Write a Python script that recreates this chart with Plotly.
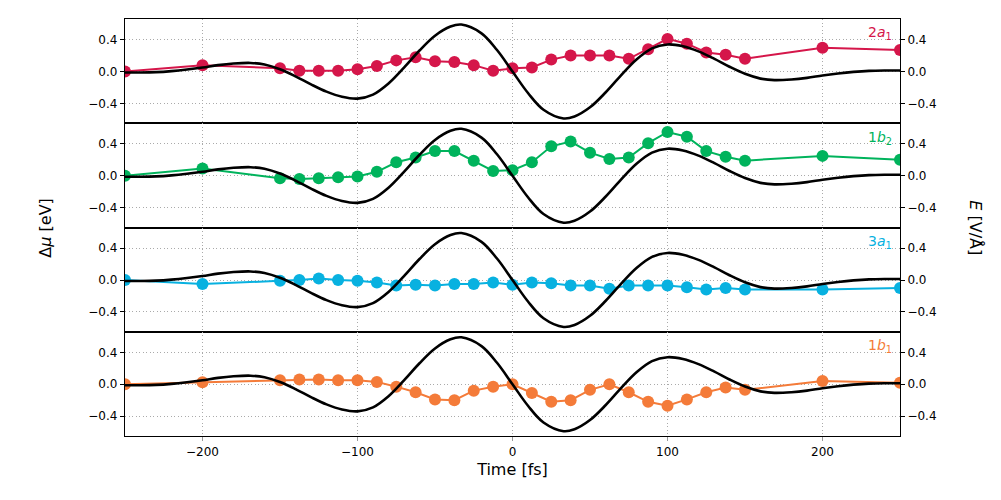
import plotly.graph_objects as go
from plotly.subplots import make_subplots

# Sample times (fs)
t_pts = [-250, -200, -150, -137.5, -125, -112.5, -100, -87.5, -75, -62.5, -50, -37.5, -25, -12.5,
         0, 12.5, 25, 37.5, 50, 62.5, 75, 87.5, 100, 112.5, 125, 137.5, 150, 200, 250]

# Δμ values (eV) per orbital
mu_2a1 = [0.00, 0.08, 0.04, 0.01, 0.01, 0.01, 0.03, 0.07, 0.14, 0.18, 0.13, 0.12, 0.08, 0.01,
          0.04, 0.05, 0.15, 0.20, 0.20, 0.20, 0.16, 0.28, 0.41, 0.35, 0.24, 0.21, 0.16, 0.30, 0.27]
mu_1b2 = [0.00, 0.09, -0.03, -0.04, -0.03, -0.02, -0.01, 0.05, 0.17, 0.23, 0.31, 0.31, 0.19, 0.06,
          0.07, 0.17, 0.37, 0.43, 0.29, 0.21, 0.23, 0.41, 0.55, 0.49, 0.31, 0.24, 0.19, 0.25, 0.20]
mu_3a1 = [0.00, -0.05, -0.01, 0.00, 0.02, 0.00, -0.01, -0.03, -0.07, -0.06, -0.07, -0.05, -0.05, -0.03,
          -0.06, -0.03, -0.04, -0.07, -0.07, -0.11, -0.07, -0.07, -0.07, -0.09, -0.12, -0.10, -0.12, -0.12, -0.10]
mu_1b1 = [0.00, 0.025, 0.05, 0.06, 0.06, 0.05, 0.05, 0.03, -0.03, -0.10, -0.19, -0.20, -0.08, -0.03,
          0.00, -0.11, -0.22, -0.20, -0.07, 0.00, -0.10, -0.22, -0.27, -0.19, -0.10, -0.04, -0.07, 0.04, 0.02]

# Electric field (V/Å)
t_field = [-250, -240, -230, -220, -210, -200, -190, -180, -169, -160, -150, -140, -130, -120, -110,
           -100, -90, -80, -70, -60, -50, -40, -33, -20, -10, 0, 10, 20, 33, 40, 50, 60, 70, 80, 90,
           100, 110, 120, 130, 140, 150, 160, 169, 180, 190, 200, 210, 220, 230, 240, 250]
e_field = [-0.012, -0.012, -0.008, 0.005, 0.025, 0.05, 0.08, 0.10, 0.108, 0.089, 0.029, -0.06, -0.162, -0.253, -0.317,
           -0.34, -0.29, -0.15, 0.049, 0.264, 0.45, 0.565, 0.59, 0.48, 0.27, 0.0, -0.27, -0.48, -0.59, -0.565,
           -0.45, -0.264, -0.049, 0.15, 0.29, 0.34, 0.317, 0.253, 0.162, 0.06, -0.029, -0.089, -0.108, -0.10, -0.08,
           -0.05, -0.025, -0.005, 0.008, 0.012, 0.012]

series = [("2<i>a</i><sub>1</sub>", mu_2a1, "#d5164a"),
          ("1<i>b</i><sub>2</sub>", mu_1b2, "#00b35c"),
          ("3<i>a</i><sub>1</sub>", mu_3a1, "#08b1e0"),
          ("1<i>b</i><sub>1</sub>", mu_1b1, "#f47b39")]

ytick_vals = [-0.4, 0.0, 0.4]
ytick_text = ["\u22120.4", "0.0", "0.4"]
xtick_vals = [-200, -100, 0, 100, 200]
xtick_text = ["\u2212200", "\u2212100", "0", "100", "200"]

fig = make_subplots(rows=4, cols=1, shared_xaxes=True, vertical_spacing=0,
                    specs=[[{"secondary_y": True}] for _ in range(4)])

font = "DejaVu Sans"
grid_dash = "1px,2.5px"
for i, (name, vals, col) in enumerate(series):
    r = i + 1
    fig.add_trace(go.Scatter(x=t_pts, y=vals, mode="lines+markers",
                             line=dict(color=col, width=2),
                             marker=dict(color=col, size=12),
                             showlegend=False), row=r, col=1, secondary_y=False)
    fig.add_trace(go.Scatter(x=t_field, y=e_field, mode="lines",
                             line=dict(color="black", width=2.6, shape="spline", smoothing=1.0),
                             showlegend=False), row=r, col=1, secondary_y=True)
    fig.update_yaxes(range=[-0.65, 0.66], tickvals=ytick_vals, ticktext=ytick_text,
                     ticks="outside", ticklen=4, tickcolor="black",
                     showgrid=True, gridcolor="#aaaaaa", griddash=grid_dash, gridwidth=1,
                     zeroline=False, showline=True, linecolor="black", linewidth=1.3, mirror=True,
                     tickfont=dict(family=font, size=12, color="black"),
                     row=r, col=1, secondary_y=False)
    fig.update_yaxes(range=[-0.65, 0.66], tickvals=ytick_vals, ticktext=ytick_text,
                     ticks="outside", ticklen=4, tickcolor="black",
                     showgrid=False, zeroline=False, showline=False,
                     tickfont=dict(family=font, size=12, color="black"),
                     row=r, col=1, secondary_y=True)
    fig.update_xaxes(range=[-250, 250], tickvals=xtick_vals, ticktext=xtick_text, domain=[0, 1],
                     showgrid=True, gridcolor="#aaaaaa", griddash=grid_dash, gridwidth=1,
                     zeroline=False, showline=True, linecolor="black", linewidth=1.3, mirror=True,
                     ticks="outside" if r == 4 else "", ticklen=4, tickcolor="#999999",
                     showticklabels=(r == 4),
                     tickfont=dict(family=font, size=12, color="black"),
                     row=r, col=1)
    top = 1 - i * 0.25
    fig.add_annotation(xref="paper", yref="paper", x=0.992, y=top - 0.008,
                       xanchor="right", yanchor="top", text=name, showarrow=False,
                       font=dict(family=font, size=14, color=col))

fig.update_xaxes(title=dict(text="Time [fs]", font=dict(family=font, size=16, color="black"),
                            standoff=6), row=4, col=1)

fig.add_annotation(xref="paper", yref="paper", x=-0.103, y=0.5, text="\u0394<i>\u03bc</i> [eV]",
                   textangle=-90, showarrow=False, xanchor="center", yanchor="middle",
                   font=dict(family=font, size=16, color="black"))
fig.add_annotation(xref="paper", yref="paper", x=1.097, y=0.5, text="<i>E</i> [V/\u00c5]",
                   textangle=90, showarrow=False, xanchor="center", yanchor="middle",
                   font=dict(family=font, size=16, color="black"))

fig.update_layout(width=1001, height=500, margin=dict(l=125, r=101, t=19, b=64),
                  paper_bgcolor="white", plot_bgcolor="white",
                  font=dict(family=font, color="black"))

fig.write_html("out.html")
